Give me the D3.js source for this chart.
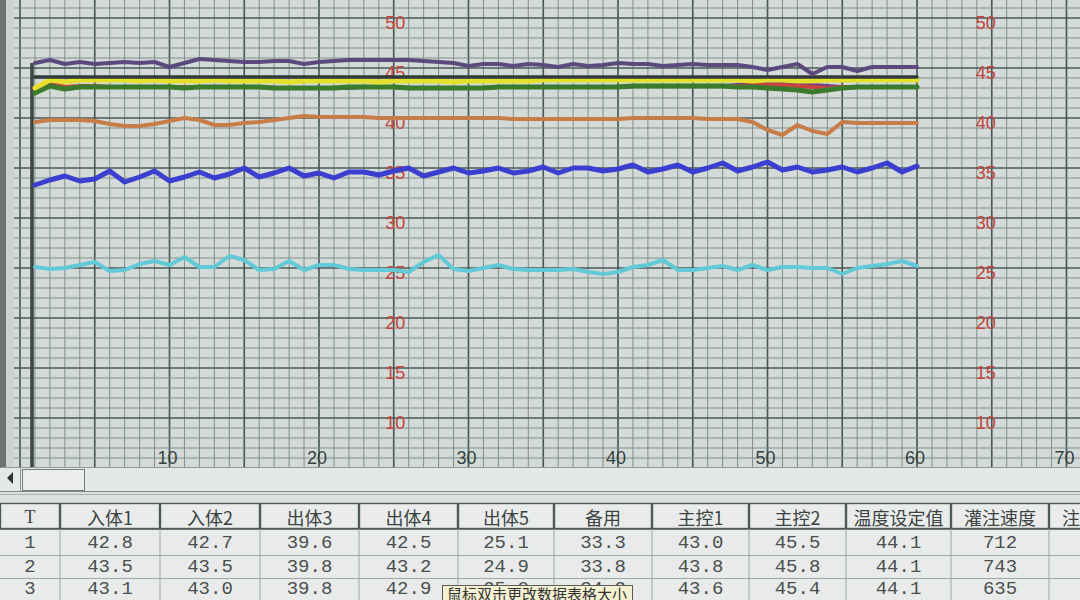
<!DOCTYPE html>
<html><head><meta charset="utf-8">
<script src="https://cdn.jsdelivr.net/npm/d3@7"></script>
<style>html,body{margin:0;padding:0;background:#dcdfde;overflow:hidden}</style>
</head><body><svg id="c" width="1080" height="600"></svg>
<script>
// ---------- data ----------
const T = [1,2,3,4,5,6,7,8,9,10,11,12,13,14,15,16,17,18,19,20,21,22,23,24,25,26,27,28,29,30,
  31,32,33,34,35,36,37,38,39,40,41,42,43,44,45,46,47,48,49,50,51,52,53,54,55,56,57,58,59,60];
const inTemp1 = [42.8,43.5,43.1,43.2,43.2,43.1,43.1,43.1,43.1,43.1, 43.1,43.1,43.1,43.1,43.1,43.1,43.0,43.0,43.0,43.0,
  43.0,43.1,43.1,43.1,43.1,43.0,43.0,43.0,43.0,43.0, 43.0,43.1,43.1,43.1,43.1,43.1,43.1,43.1,43.1,43.1,
  43.2,43.2,43.2,43.2,43.2,43.2,43.2,43.2,43.3,43.3, 43.3,43.2,43.1,43.0,43.1,43.1,43.1,43.1,43.1,43.1];
const inTemp2 = [42.7,43.5,43.0,43.1,43.1,43.1,43.1,43.1,43.1,43.1, 43.1,43.1,43.1,43.1,43.1,43.1,43.0,43.0,43.0,43.0,
  43.0,43.0,43.1,43.1,43.1,43.0,43.0,43.0,43.0,43.0, 43.0,43.1,43.1,43.1,43.1,43.1,43.1,43.1,43.1,43.1,
  43.2,43.2,43.2,43.2,43.2,43.2,43.2,43.3,43.4,43.4, 43.4,43.3,43.3,43.2,43.1,43.1,43.1,43.1,43.1,43.1];
const outTemp3 = [39.6,39.8,39.8,39.8,39.7,39.4,39.2,39.2,39.4,39.7, 40.0,39.8,39.3,39.3,39.5,39.6,39.8,40.0,40.2,40.1,
  40.1,40.1,40.1,40.0,40.0,40.0,40.0,40.0,40.0,40.0, 40.0,40.0,39.9,39.9,39.9,39.9,39.9,39.9,39.9,39.9,
  40.0,40.0,40.0,40.0,40.0,39.9,39.9,39.9,39.6,38.8, 38.3,39.3,38.7,38.4,39.6,39.5,39.5,39.5,39.5,39.5];
const outTemp4 = [42.5,43.2,42.9,43.1,43.1,43.1,43.1,43.1,43.1,43.1, 43.0,43.1,43.1,43.1,43.1,43.1,43.0,43.0,43.0,43.0,
  43.0,43.1,43.1,43.1,43.1,43.0,43.0,43.0,43.0,43.0, 43.0,43.1,43.1,43.1,43.1,43.1,43.1,43.1,43.1,43.1,
  43.2,43.2,43.2,43.2,43.2,43.2,43.2,43.1,43.1,43.0, 42.9,42.8,42.6,42.8,43.0,43.1,43.1,43.1,43.1,43.1];
const outTemp5 = [25.1,24.9,25.0,25.3,25.6,24.7,24.8,25.4,25.7,25.3, 26.1,25.1,25.1,26.2,25.8,24.8,24.9,25.7,24.8,25.3,
  25.3,24.9,24.8,24.8,24.8,24.6,25.6,26.3,24.9,24.7, 25.0,25.3,24.9,24.8,24.8,24.8,24.9,24.6,24.4,24.6,
  25.1,25.3,25.8,24.8,24.8,25.0,25.2,24.8,25.3,24.8, 25.1,25.1,25.0,25.0,24.4,25.0,25.2,25.4,25.7,25.2];
const spare = [33.3,33.8,34.2,33.7,33.9,34.7,33.6,34.1,34.7,33.7, 34.1,34.6,34.0,34.4,35.0,34.1,34.5,35.0,34.2,34.5,
  34.0,34.6,34.6,34.3,34.7,35.0,34.2,34.6,35.0,34.5, 34.7,35.0,34.5,34.7,35.1,34.5,35.0,35.0,34.7,34.9,
  35.3,34.6,34.9,35.3,34.6,35.0,35.5,34.7,35.1,35.6, 34.8,35.1,34.6,34.8,35.1,34.6,35.0,35.5,34.6,35.2];
const main1 = [43.0,43.8,43.6,43.8,43.8,43.8,43.8,43.7,43.8,43.7, 43.7,43.7,43.8,43.7,43.7,43.7,43.7,43.6,43.7,43.7,
  43.7,43.7,43.7,43.6,43.7,43.7,43.7,43.7,43.6,43.7, 43.7,43.7,43.7,43.7,43.8,43.8,43.8,43.8,43.8,43.8,
  43.8,43.8,43.8,43.8,43.8,43.8,43.8,43.8,43.7,43.8, 43.8,43.7,43.7,43.8,43.8,43.8,43.8,43.8,43.8,43.8];
const main2 = [45.5,45.8,45.4,45.6,45.4,45.5,45.6,45.5,45.6,45.1, 45.5,45.9,45.8,45.7,45.6,45.6,45.7,45.7,45.4,45.6,
  45.7,45.8,45.8,45.8,45.8,45.8,45.7,45.6,45.5,45.2, 45.4,45.4,45.2,45.4,45.3,45.1,45.4,45.2,45.3,45.5,
  45.4,45.4,45.2,45.3,45.4,45.3,45.3,45.3,45.1,44.8, 45.1,45.4,44.4,45.1,45.1,44.7,45.1,45.1,45.1,45.1];
const setTemp = [44.1,44.1,44.1,44.1,44.1,44.1,44.1,44.1,44.1,44.1, 44.1,44.1,44.1,44.1,44.1,44.1,44.1,44.1,44.1,44.1,
  44.1,44.1,44.1,44.1,44.1,44.1,44.1,44.1,44.1,44.1, 44.1,44.1,44.1,44.1,44.1,44.1,44.1,44.1,44.1,44.1,
  44.1,44.1,44.1,44.1,44.1,44.1,44.1,44.1,44.1,44.1, 44.1,44.1,44.1,44.1,44.1,44.1,44.1,44.1,44.1,44.1];
const speed = [712,743,635];
const xTickLabels = [10,20,30,40,50,60,70];
const yTickLabels = [10,15,20,25,30,35,40,45,50];
const headers = ["T","入体1","入体2","出体3","出体4","出体5","备用","主控1","主控2","温度设定值","灌注速度","注"];
const tipText = "鼠标双击更改数据表格大小";

// ---------- layout ----------
const svg = d3.select("#c");
const plotLeft = 14, plotBottom = 467;
const x = d3.scaleLinear().domain([0,70]).range([20,1066.5]);
const y = d3.scaleLinear().domain([10,50]).range([418,18]);

svg.append("rect").attr("x",0).attr("y",0).attr("width",1080).attr("height",600).attr("fill","#dcdfde");
svg.append("rect").attr("x",plotLeft).attr("y",0).attr("width",1080-plotLeft).attr("height",plotBottom).attr("fill","#d4dad8");
svg.append("clipPath").attr("id","pc").append("rect").attr("x",plotLeft).attr("y",0).attr("width",1080-plotLeft).attr("height",plotBottom);
const g = svg.append("g").attr("clip-path","url(#pc)");

// grid
const gx = d3.range(0,73), gy = d3.range(4,54);
g.selectAll(".vx").data(gx).join("line")
  .attr("x1",d=>x(d)).attr("x2",d=>x(d)).attr("y1",0).attr("y2",plotBottom)
  .attr("stroke",d=>d%5===0?"#495a58":"#7f8f8b").attr("stroke-width",d=>d%5===0?1.7:1);
g.selectAll(".hy").data(gy).join("line")
  .attr("y1",d=>y(d)).attr("y2",d=>y(d)).attr("x1",plotLeft).attr("x2",1080)
  .attr("stroke",d=>d%5===0?"#495a58":"#7f8f8b").attr("stroke-width",d=>d%5===0?1.7:1);

// left axis bar
g.append("line").attr("x1",32).attr("x2",32).attr("y1",y(main2[0])).attr("y2",plotBottom)
  .attr("stroke","#3a4544").attr("stroke-width",3.5);

// y labels (inside plot, two columns)
const labelCols = [25.1, 64.6];
labelCols.forEach(c=>{
  g.selectAll(null).data(yTickLabels).join("text")
    .attr("x",x(c)).attr("y",d=>y(d)+5).attr("text-anchor","middle").attr("dominant-baseline","central")
    .attr("font-family","Liberation Sans, Arial, sans-serif").attr("font-size",18).attr("fill","#c2443c")
    .text(d=>d);
});

// series
const series = [
  {v:inTemp2, c:"#6c3f8e", w:4},
  {v:inTemp1, c:"#c9443e", w:4},
  {v:outTemp4, c:"#3b7b2e", w:5},
  {v:main1, c:"#e4e02c", w:5},
  {v:setTemp, c:"#2f3a3a", w:3.5},
  {v:main2, c:"#5c4a7e", w:4},
  {v:outTemp3, c:"#c87c48", w:4},
  {v:spare, c:"#3a3fcf", w:5},
  {v:outTemp5, c:"#62c9d6", w:4}
];
const line = d3.line().x((d,i)=>x(T[i])).y(d=>y(d));
series.forEach(s=>{
  g.append("path").datum(s.v).attr("d",line).attr("fill","none")
    .attr("stroke",s.c).attr("stroke-width",s.w).attr("stroke-linejoin","round").attr("stroke-linecap","round");
});

// x labels
g.selectAll(".xl").data(xTickLabels).join("text")
  .attr("x",d=>x(d)-2).attr("y",458).attr("text-anchor","middle").attr("dominant-baseline","central")
  .attr("font-family","Liberation Sans, Arial, sans-serif").attr("font-size",18).attr("fill","#34423f")
  .text(d=>d);

// left frame
svg.append("rect").attr("x",0).attr("y",0).attr("width",plotLeft).attr("height",plotBottom).attr("fill","#cdd2d0");
svg.append("rect").attr("x",0).attr("y",0).attr("width",6).attr("height",plotBottom).attr("fill","#6c7473");

// scrollbar strip
svg.append("rect").attr("x",0).attr("y",plotBottom).attr("width",1080).attr("height",24).attr("fill","#e4e8e7");
svg.append("line").attr("x1",0).attr("x2",1080).attr("y1",plotBottom+0.5).attr("y2",plotBottom+0.5).attr("stroke","#8d9a98");
svg.append("path").attr("d","M13,472 L7,478 L13,484 Z").attr("fill","#2e3433");
svg.append("line").attr("x1",20.5).attr("x2",20.5).attr("y1",plotBottom).attr("y2",491).attr("stroke","#8d9a98");
svg.append("rect").attr("x",22.5).attr("y",469.5).attr("width",62).attr("height",21).attr("fill","#eceeed").attr("stroke","#6f7e7c");
svg.append("line").attr("x1",0).attr("x2",1080).attr("y1",491.5).attr("y2",491.5).attr("stroke","#7f8c8a");
svg.append("line").attr("x1",0).attr("x2",1080).attr("y1",494.5).attr("y2",494.5).attr("stroke","#a9b3b1");

// table
const cols = [T, inTemp1, inTemp2, outTemp3, outTemp4, outTemp5, spare, main1, main2, setTemp, speed];
const edges = [0,60,160,260,359,458,554,652,749,846,951,1049,1150];
const rowCenters = [543, 567, 589];
svg.append("rect").attr("x",0).attr("y",503).attr("width",1080).attr("height",97).attr("fill","#e8ebea");
for(let i=0;i<headers.length;i++){
  svg.append("rect").attr("x",edges[i]+0.5).attr("y",503.5).attr("width",edges[i+1]-edges[i]-1).attr("height",25)
    .attr("fill","#e9ecea").attr("stroke","#505a59").attr("stroke-width",1.4);
}
[555.5,578.5].forEach(yy=>svg.append("line").attr("x1",0).attr("x2",1080).attr("y1",yy).attr("y2",yy).attr("stroke","#9ea7a6"));
svg.append("line").attr("x1",0).attr("x2",1080).attr("y1",529.5).attr("y2",529.5).attr("stroke","#6b7574");
edges.slice(1).forEach(xx=>svg.append("line").attr("x1",xx).attr("x2",xx).attr("y1",529).attr("y2",600).attr("stroke","#9ea7a6"));

headers.forEach((h,i)=>{
  const last = i===headers.length-1;
  const cx = last ? edges[i]+13 : (edges[i]+edges[i+1])/2;
  svg.append("text").attr("x",cx).attr("y",517).attr("text-anchor",last?"start":"middle")
    .attr("dominant-baseline","central")
    .attr("font-family", h==="T" ? "Liberation Serif, serif" : "Noto Sans CJK SC, sans-serif")
    .attr("font-size",18).attr("fill","#3c4241").text(h);
});
svg.append("clipPath").attr("id","tipHide").append("rect").attr("x",0).attr("y",0).attr("width",1080).attr("height",586);
for(let r=0;r<3;r++){
  cols.forEach((arr,i)=>{
    const v = arr[r];
    const txt = (i===0||i===10) ? String(v) : v.toFixed(1);
    const t = svg.append("text").attr("x",(edges[i]+edges[i+1])/2).attr("y",rowCenters[r])
      .attr("text-anchor","middle").attr("dominant-baseline","central")
      .attr("font-family","Liberation Mono, DejaVu Sans Mono, monospace").attr("font-size",19).attr("fill","#4a4f4e")
      .text(txt);
    if(r===2 && (i===5||i===6)) t.attr("clip-path","url(#tipHide)");
  });
}

// tooltip
svg.append("rect").attr("x",442.5).attr("y",585.5).attr("width",190).attr("height",22).attr("fill","#f5f2d2").attr("stroke","#5b5b5b");
svg.append("text").attr("x",447).attr("y",600).attr("font-family","Noto Sans CJK SC, sans-serif").attr("font-size",15)
  .attr("fill","#333").text(tipText);
</script></body></html>
